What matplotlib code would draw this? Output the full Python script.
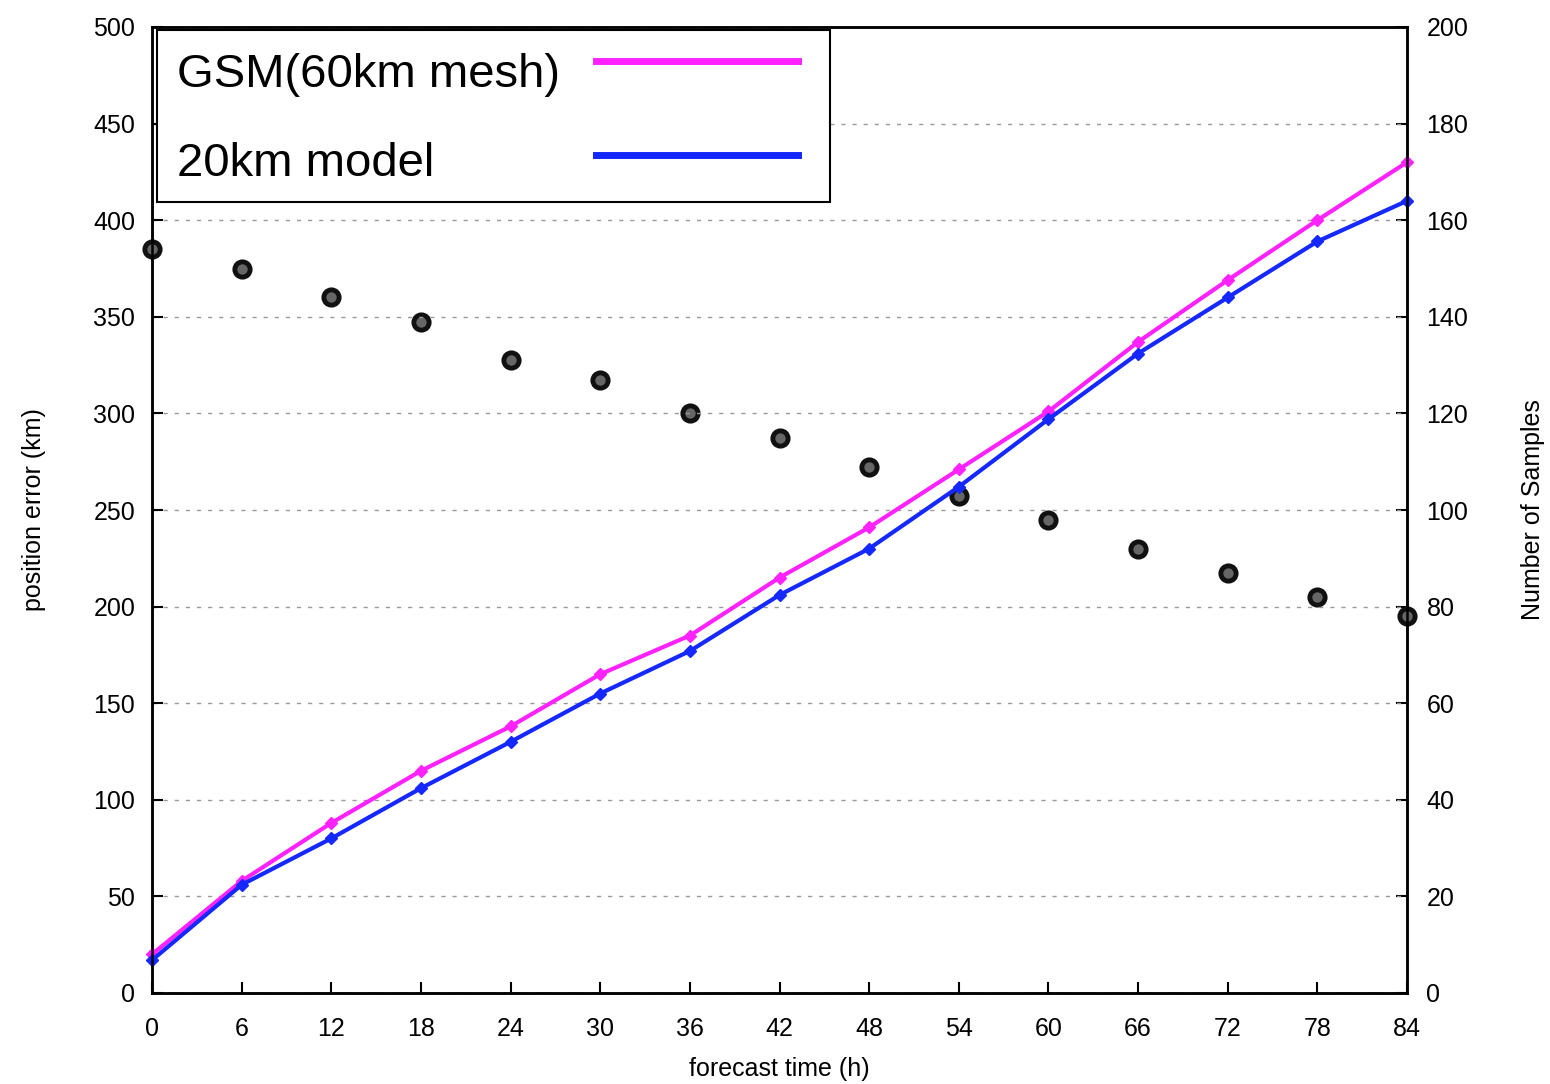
import numpy as np
import matplotlib
matplotlib.use("Agg")
from matplotlib import pyplot as plt

plt.rcParams['font.family'] = ['Liberation Sans', 'DejaVu Sans']

hours = [0, 6, 12, 18, 24, 30, 36, 42, 48, 54, 60, 66, 72, 78, 84]
gsm_err = [20, 58, 88, 115, 138, 165, 185, 215, 241, 271, 301, 337, 369, 400, 430]
m20_err = [17, 56, 80, 106, 130, 155, 177, 206, 230, 262, 297, 331, 360, 389, 410]
n_samples = [154, 150, 144, 139, 131, 127, 120, 115, 109, 103, 98, 92, 87, 82, 78]

labels = ["GSM(60km mesh)", "20km model"]
col_gsm = "#ff22ff"
col_20 = "#1428ff"

fig = plt.figure(figsize=(15.5, 10.84), dpi=100)
ax = fig.add_axes([152/1550, 1-993/1084, (1407-152)/1550, (993-27)/1084])
ax2 = ax.twinx()

# samples on right axis
ax2.plot(hours, n_samples, 'o', ms=11, mfc='#666666', mec='#111111', mew=3.5, clip_on=False, zorder=3)
ax2.set_ylim(0, 200)
ax2.set_yticks(np.arange(0, 201, 20))

ax.set_zorder(ax2.get_zorder()+1)
ax.patch.set_visible(False)
ax.plot(hours, gsm_err, '-', color=col_gsm, lw=3, marker='D', ms=6, clip_on=False)
ax.plot(hours, m20_err, '-', color=col_20, lw=3, marker='D', ms=6, clip_on=False)

ax.set_xlim(0, 84)
ax.set_ylim(0, 500)
ax.set_xticks(hours)
ax.set_yticks(np.arange(0, 501, 50))
ax.yaxis.grid(True, color='#999999', ls=(0, (3, 5)), lw=1)

for a in (ax, ax2):
    a.tick_params(direction='in', length=8, width=1.5, labelsize=18, colors='black')
    for s in a.spines.values():
        s.set_linewidth(1.8)
ax.tick_params(axis='x', pad=17)
ax.tick_params(axis='y', pad=12)
ax2.tick_params(axis='y', pad=14)

ax.set_xlabel("forecast time (h)", fontsize=18, labelpad=12)
ax.set_ylabel("position error (km)", fontsize=18, labelpad=34)
ax2.set_ylabel("Number of Samples", fontsize=18, labelpad=38)

# legend box drawn like gnuplot key
bx0, by0, bx1, by1 = 157/1550, 1-202/1084, 830/1550, 1-30/1084
fig.patches.append(plt.Rectangle((bx0, by0), bx1-bx0, by1-by0, transform=fig.transFigure,
                                 fill=True, fc='white', ec='black', lw=1.5, zorder=10))
for lab, col, yy, ty in zip(labels, [col_gsm, col_20], [61, 155], [75, 164]):
    fig.text(177/1550, 1-ty/1084, lab, fontsize=34, va='center', ha='left', zorder=11)
    fig.add_artist(plt.Line2D([596/1550, 798/1550], [1-yy/1084, 1-yy/1084], color=col, lw=5, zorder=11))

fig.savefig("out.png", dpi=100)
